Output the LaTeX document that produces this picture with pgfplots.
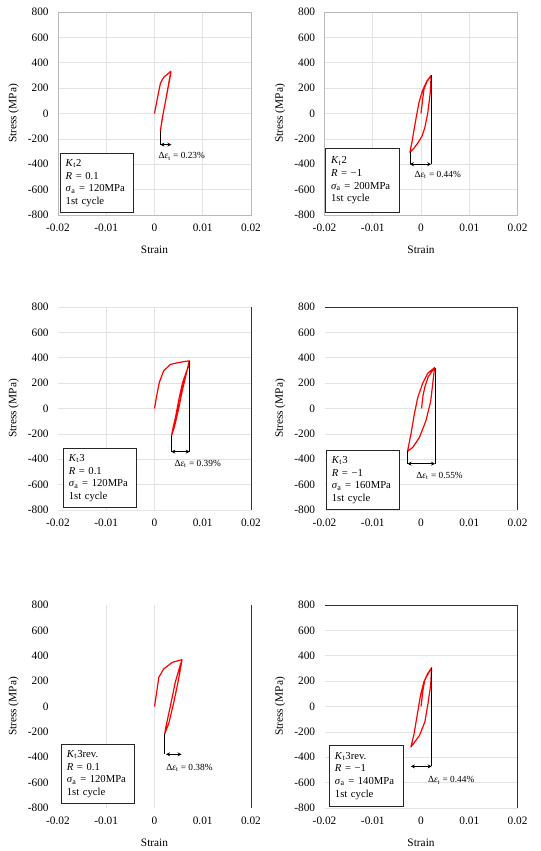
\documentclass[border=0pt]{standalone}
\usepackage{pgfplots}
\pgfplotsset{compat=1.18}
\usepackage{fontspec}
\setmainfont{Liberation Serif}
\usetikzlibrary{arrows.meta}

\pgfplotsset{
 panel/.style={
  scale only axis, width=144.75pt, height=152.25pt, anchor=south west,
  xmin=-0.02, xmax=0.02, ymin=-800, ymax=800,
  xtick={-0.02,-0.01,0,0.01,0.02}, xticklabels={-0.02,-0.01,0,0.01,0.02},
  ytick={-800,-600,-400,-200,0,200,400,600,800},
  yticklabels={-800,-600,-400,-200,0,200,400,600,800},
  scaled ticks=false, major tick length=0pt,
  tick label style={font=\fontsize{8.5}{9}\selectfont},
  yticklabel style={xshift=-3.5pt}, xticklabel style={yshift=-3pt},
  grid style={gray!22, line width=0.5pt},
  ylabel={Stress (MPa)},
  ylabel style={at={(axis description cs:-0.23,0.5)}, anchor=center, font=\fontsize{8.5}{9}\selectfont},
  xlabel style={at={(axis description cs:0.5,-0.172)}, anchor=center, font=\fontsize{8.5}{9}\selectfont},
  clip=false,
 },
}
\tikzset{
 curve/.style={red, line width=0.9pt, line join=round},
 boxtxt/.style={draw=black!85, line width=0.7pt, fill=white, anchor=south west, align=left,
   text width=47pt, inner xsep=4pt, inner ysep=2pt, minimum height=44pt,
   font=\fontsize{8}{9.5}\selectfont},
 dim/.style={black, line width=0.5pt},
 dimarrow/.style={black, line width=0.6pt, {Stealth[length=3pt,width=3pt]}-{Stealth[length=3pt,width=3pt]}},
 annot/.style={anchor=west, font=\fontsize{7}{8}\selectfont, inner sep=0pt},
 frameline/.style={black!80, line width=0.5pt},
 gridl/.style={gray!22, line width=0.5pt},
}

\begin{document}
\begin{tikzpicture}
\useasboundingbox (0,0) rectangle (405pt,638.25pt);

% ---------- Panel 1 ----------
\begin{axis}[panel, at={(43.5pt,477pt)}, xmajorgrids, ymajorgrids,
  axis line style={gray!55}, xlabel={Strain}]
\addplot[curve, no marks] coordinates {
 (0,0) (0.0006,120) (0.00122,237) (0.0016,265) (0.002,289) (0.0027,310) (0.0034,333)
 (0.0030,250) (0.0024,120) (0.0018,0) (0.00122,-137)
 (0.0016,-40) (0.0022,80) (0.0028,200) (0.0034,320)};
\draw[dim] (axis cs:0.00122,-137) -- (axis cs:0.00122,-245);
\draw[dimarrow] (axis cs:0.00122,-245) -- (axis cs:0.0035,-245);
\node[annot] at (axis cs:0.0008,-338) {Δ\textit{ε}\textsubscript{t} = 0.23\%};
\node[boxtxt] at (rel axis cs:0.01,0.01) {\textit{K}\textsubscript{t}2\\\textit{R} = 0.1\\\textit{σ}\textsubscript{a} = 120MPa\\1st cycle};
\end{axis}

% ---------- Panel 2 ----------
\begin{axis}[panel, at={(243.4pt,477pt)}, xmajorgrids, ymajorgrids,
  axis line style={gray!55}, xlabel={Strain}]
\addplot[curve, no marks] coordinates {
 (0,0) (0.0003,100) (0.0006,190) (0.0012,250) (0.0021,300)
 (0.0019,160) (0.0014,5) (0.0008,-110) (0.0002,-180) (-0.0008,-240) (-0.0016,-280) (-0.0023,-306)
 (-0.0019,-230) (-0.0015,-140) (-0.001,-30) (-0.0004,90) (0.0003,180) (0.0012,255) (0.0021,300)};
\draw[dim] (axis cs:-0.0023,-306) -- (axis cs:-0.0023,-400);
\draw[dim] (axis cs:0.0021,300) -- (axis cs:0.0021,-400);
\draw[dimarrow] (axis cs:-0.0023,-400) -- (axis cs:0.0021,-400);
\node[annot] at (axis cs:-0.0014,-484) {Δ\textit{ε}\textsubscript{t} = 0.44\%};
\node[boxtxt, minimum height=48pt] at (rel axis cs:0.004,0.01) {\textit{K}\textsubscript{t}2\\\textit{R} = −1\\\textit{σ}\textsubscript{a} = 200MPa\\1st cycle};
\end{axis}

% ---------- Panel 3 ----------
\begin{axis}[panel, at={(43.5pt,255.75pt)}, ymajorgrids, axis line style={draw=none}]
\draw[gridl] (axis cs:-0.01,-800) -- (axis cs:-0.01,800);
\draw[gridl] (axis cs:0,-800) -- (axis cs:0,800);
\draw[frameline] (rel axis cs:1,0) -- (rel axis cs:1,1);
\addplot[curve, no marks] coordinates {
 (0,0) (0.0005,110) (0.001,206) (0.0019,297) (0.0033,348) (0.0054,365) (0.0072,376)
 (0.0065,260) (0.0057,130) (0.0049,-20) (0.0041,-150) (0.0035,-217)
 (0.0038,-160) (0.0044,-60) (0.0051,80) (0.0058,200) (0.0066,290) (0.0073,350)};
\draw[dim] (axis cs:0.0035,-217) -- (axis cs:0.0035,-340);
\draw[dim] (axis cs:0.0073,376) -- (axis cs:0.0073,-340);
\draw[dimarrow] (axis cs:0.0035,-340) -- (axis cs:0.0073,-340);
\node[annot] at (axis cs:0.0041,-436) {Δ\textit{ε}\textsubscript{t} = 0.39\%};
\node[boxtxt] at (rel axis cs:0.026,0.01) {\textit{K}\textsubscript{t}3\\\textit{R} = 0.1\\\textit{σ}\textsubscript{a} = 120MPa\\1st cycle};
\end{axis}

% ---------- Panel 4 ----------
\begin{axis}[panel, at={(243.4pt,255.75pt)}, ymajorgrids, axis line style={draw=none}]
\draw[frameline] (rel axis cs:0,1) -- (rel axis cs:1,1) -- (rel axis cs:1,0);
\addplot[curve, no marks] coordinates {
 (0.0001,0) (0.0004,100) (0.0008,170) (0.0015,250) (0.0028,322)
 (0.0024,187) (0.002,57) (0.001,-99) (-0.00035,-229) (-0.0017,-306) (-0.0028,-338)
 (-0.0021,-203) (-0.0014,-47) (-0.0007,83) (0.00035,200) (0.0014,278) (0.0028,322)};
\draw[dim] (axis cs:-0.0028,-338) -- (axis cs:-0.0028,-435);
\draw[dim] (axis cs:0.0029,322) -- (axis cs:0.0029,-435);
\draw[dimarrow] (axis cs:-0.0028,-435) -- (axis cs:0.0029,-435);
\node[annot] at (axis cs:-0.001,-533) {Δ\textit{ε}\textsubscript{t} = 0.55\%};
\node[boxtxt] at (rel axis cs:0.008,0.0) {\textit{K}\textsubscript{t}3\\\textit{R} = −1\\\textit{σ}\textsubscript{a} = 160MPa\\1st cycle};
\end{axis}

% ---------- Panel 5 ----------
\begin{axis}[panel, at={(43.5pt,32.25pt)}, axis line style={draw=none}, xlabel={Strain}]
\draw[gridl] (axis cs:-0.01,-800) -- (axis cs:-0.01,800);
\draw[gridl] (axis cs:0,-800) -- (axis cs:0,800);
\draw[frameline] (rel axis cs:1,0) -- (rel axis cs:1,1);
\addplot[curve, no marks] coordinates {
 (0,0) (0.0004,100) (0.0009,230) (0.0019,296) (0.0037,348) (0.0057,369)
 (0.005,216) (0.004,32) (0.003,-127) (0.0021,-219)
 (0.0024,-153) (0.0033,5) (0.0043,190) (0.0054,335) (0.0057,360)};
\draw[dim] (axis cs:0.0021,-219) -- (axis cs:0.0021,-377);
\draw[dimarrow] (axis cs:0.0024,-377) -- (axis cs:0.0056,-377);
\node[annot] at (axis cs:0.0024,-483) {Δ\textit{ε}\textsubscript{t} = 0.38\%};
\node[boxtxt] at (rel axis cs:0.016,0.02) {\textit{K}\textsubscript{t}3rev.\\\textit{R} = 0.1\\\textit{σ}\textsubscript{a} = 120MPa\\1st cycle};
\end{axis}

% ---------- Panel 6 ----------
\begin{axis}[panel, at={(243.4pt,32.25pt)}, ymajorgrids, axis line style={draw=none}, xlabel={Strain}]
\draw[frameline] (rel axis cs:0,1) -- (rel axis cs:1,1) -- (rel axis cs:1,0);
\addplot[curve, no marks] coordinates {
 (0,0) (0.0004,130) (0.0008,210) (0.0015,260) (0.0022,306)
 (0.002,169) (0.0015,37) (0.0008,-121) (-0.0003,-227) (-0.0014,-285) (-0.0021,-319)
 (-0.0015,-227) (-0.0008,-69) (-0.0001,90) (0.0006,195) (0.0014,261) (0.0022,306)};
\draw[dim] (axis cs:0.0022,306) -- (axis cs:0.0022,-472);
\draw[dimarrow] (axis cs:-0.0021,-472) -- (axis cs:0.0022,-472);
\node[annot] at (axis cs:0.0014,-583) {Δ\textit{ε}\textsubscript{t} = 0.44\%};
\node[boxtxt, minimum height=46pt] at (rel axis cs:0.024,0.005) {\textit{K}\textsubscript{t}3rev.\\\textit{R} = −1\\\textit{σ}\textsubscript{a} = 140MPa\\1st cycle};
\end{axis}
\end{tikzpicture}
\end{document}
